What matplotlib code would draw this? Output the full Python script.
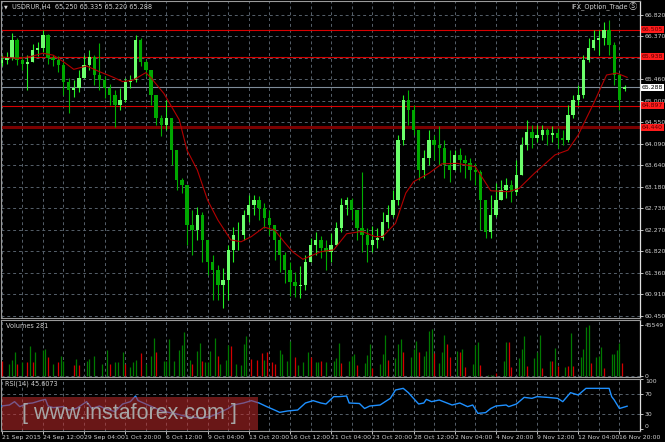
import matplotlib
matplotlib.use("Agg")
import matplotlib.pyplot as plt
import matplotlib.patches as mpatches
from matplotlib import font_manager
import numpy as np

# one candle = two H4 bars (bar index runs 0 .. 245)
candle_step = 2
closes = [
    65.87, 65.91, 66.29, 65.87, 65.78, 65.83, 66.08, 66.12, 66.40, 65.91,
    65.87, 65.76, 65.40, 65.23, 65.28, 65.49, 65.76, 65.93, 65.55, 65.44,
    65.28, 65.13, 64.92, 65.02, 65.40, 65.44, 66.29, 65.83, 65.66, 65.13,
    64.64, 64.49, 64.64, 63.96, 63.33, 63.22, 62.38, 62.27, 62.59, 62.06,
    61.59, 61.42, 61.11, 61.21, 61.85, 62.16, 62.16, 62.59, 62.80, 62.90,
    62.74, 62.52, 62.38, 62.06, 61.74, 61.42, 61.17, 61.09, 61.11, 61.59,
    61.95, 62.06, 61.89, 61.80, 61.95, 62.31, 62.80, 62.90, 62.69, 62.31,
    62.16, 61.95, 62.06, 62.10, 62.44, 62.59, 62.90, 64.18, 65.02, 64.81,
    64.39, 63.54, 63.79, 64.18, 64.07, 64.01, 63.65, 63.54, 63.86, 63.75,
    63.69, 63.54, 63.50, 62.90, 62.23, 62.59, 62.90, 63.12, 63.22, 63.07,
    63.43, 64.07, 64.34, 64.22, 64.28, 64.39, 64.28, 64.32, 64.22, 64.18,
    64.70, 65.02, 65.13, 65.87, 66.12, 66.29, 66.33, 66.50, 66.19, 65.55,
    65.02, 65.288]
highs = [
    65.97, 66.04, 66.44, 66.33, 65.95, 65.97, 66.21, 66.25, 66.50, 66.42,
    65.97, 65.95, 65.83, 65.49, 65.44, 65.66, 65.97, 66.08, 65.97, 66.23,
    65.53, 65.36, 65.23, 65.28, 65.49, 65.55, 66.40, 66.33, 65.87, 65.66,
    65.13, 64.70, 65.02, 64.64, 63.96, 63.37, 63.22, 62.69, 62.76, 62.65,
    62.06, 61.74, 61.53, 61.47, 61.95, 62.33, 62.44, 62.69, 63.01, 63.01,
    62.99, 62.84, 62.69, 62.38, 62.23, 61.80, 61.59, 61.38, 61.51, 61.74,
    62.10, 62.23, 62.14, 62.06, 62.21, 62.44, 62.95, 62.97, 62.95, 62.69,
    63.50, 62.31, 62.35, 62.31, 62.65, 62.80, 63.12, 64.28, 65.13, 65.23,
    64.92, 64.39, 63.96, 64.39, 64.28, 64.47, 64.18, 63.96, 63.96, 64.01,
    63.86, 63.79, 63.69, 63.54, 62.90, 63.01, 63.26, 63.33, 63.37, 63.33,
    63.75, 64.24, 64.60, 64.49, 64.49, 64.49, 64.43, 64.47, 64.43, 64.39,
    64.92, 65.13, 65.34, 65.97, 66.33, 66.50, 66.50, 66.67, 66.71, 66.25,
    65.60, 65.335]
lows = [
    65.74, 65.78, 65.87, 65.76, 65.66, 65.23, 65.83, 65.95, 66.04, 65.78,
    65.74, 65.61, 65.13, 64.75, 65.09, 65.19, 65.49, 65.66, 65.34, 65.23,
    65.06, 64.92, 64.45, 64.81, 64.98, 65.28, 65.40, 65.74, 65.53, 64.92,
    64.49, 64.26, 64.39, 63.65, 63.12, 63.05, 61.95, 61.74, 62.06, 61.59,
    61.32, 60.79, 60.79, 60.62, 60.79, 61.59, 61.85, 62.06, 62.44, 62.59,
    62.48, 62.31, 62.16, 61.64, 61.38, 61.15, 60.87, 60.85, 60.83, 61.00,
    61.59, 61.74, 61.68, 61.42, 61.59, 61.95, 62.23, 62.59, 62.48, 62.06,
    61.80, 61.59, 61.80, 61.89, 62.05, 62.31, 62.55, 62.80, 64.07, 64.49,
    64.28, 63.33, 63.37, 63.65, 63.75, 63.65, 63.37, 63.29, 63.54, 63.50,
    63.37, 63.33, 63.22, 62.27, 62.10, 62.10, 62.55, 62.90, 62.95, 62.86,
    63.01, 63.43, 63.96, 64.01, 64.13, 64.18, 64.07, 64.13, 64.01, 64.07,
    64.13, 64.64, 64.92, 65.06, 65.83, 66.08, 65.97, 66.19, 65.97, 65.34,
    64.81, 65.220]
first_open = 65.80
last_open = 65.250

# moving average (red line)
ma_bar = [0, 7, 12, 16, 20, 24, 28, 33, 38, 43, 47, 51, 56, 58, 63, 69, 72, 76,
          80, 84, 89, 93, 97, 102, 106, 110, 113, 117, 124, 129, 134, 140, 145,
          148, 153, 157, 160, 166, 171, 177, 184, 190, 197, 201, 207, 215, 220,
          224, 230, 235, 239, 243]
ma_val = [65.93, 65.90, 65.95, 66.01, 65.97, 65.83, 65.67, 65.74, 65.62, 65.51,
          65.41, 65.44, 65.60, 65.49, 65.16, 64.60, 63.96, 63.54, 62.90, 62.48,
          62.06, 62.02, 62.13, 62.33, 62.27, 62.00, 61.81, 61.65, 61.81, 61.85,
          62.19, 62.24, 62.13, 62.13, 62.41, 63.05, 63.29, 63.47, 63.67, 63.68,
          63.61, 63.10, 63.08, 63.15, 63.47, 63.86, 63.96, 64.28, 64.95, 65.55,
          65.59, 65.50]

red_levels = [66.505, 65.938, 64.897]
support_level = 64.440
bid = 65.288
price_ticks = [66.820, 66.370, 65.910, 65.460, 65.000, 64.550, 64.090, 63.640,
               63.180, 62.730, 62.270, 61.820, 61.360, 60.910, 60.450]

date_bars = list(range(0, 241, 16))
date_labels = ["21 Sep 2015", "24 Sep 12:00", "29 Sep 04:00", "1 Oct 20:00",
               "6 Oct 12:00", "9 Oct 04:00", "13 Oct 20:00", "16 Oct 12:00",
               "21 Oct 04:00", "23 Oct 20:00", "28 Oct 12:00", "2 Nov 04:00",
               "4 Nov 20:00", "9 Nov 12:00", "12 Nov 04:00", "16 Nov 20:00"]

# volumes per H4 bar (g = green, r = red)
vol_bar = [0, 3, 4, 5, 6, 8, 10, 11, 12, 13,
           16, 17, 18, 20, 22, 23, 24, 28, 29, 30,
           33, 34, 36, 39, 41, 42, 44, 45, 47, 48,
           50, 51, 52, 54, 56, 58, 59, 60, 63, 64,
           65, 67, 69, 70, 71, 73, 74, 76, 77, 78,
           79, 80, 81, 83, 84, 85, 87, 88, 89, 91,
           93, 94, 95, 97, 99, 101, 102, 103, 105, 106,
           108, 109, 111, 112, 114, 115, 117, 119, 120, 122,
           123, 124, 126, 129, 130, 131, 132, 135, 136, 137,
           138, 141, 142, 143, 144, 147, 148, 149, 150, 153,
           154, 155, 156, 159, 160, 161, 162, 164, 165, 166,
           167, 168, 170, 171, 172, 173, 174, 177, 178, 179,
           180, 183, 184, 185, 186, 189, 190, 191, 192, 195,
           196, 197, 198, 201, 202, 203, 204, 207, 208, 209,
           210, 213, 214, 215, 216, 219, 220, 221, 222, 225,
           226, 227, 228, 229, 231, 232, 233, 234, 237, 238,
           239, 240, 241, 243]
vol_value = [13000, 11000, 14400, 21600, 11000, 12400, 12400, 26800, 12400, 21000,
             23100, 24500, 17300, 11000, 12400, 18200, 13800, 9500, 15300, 9500,
             13800, 15300, 18200, 11000, 23400, 11000, 12400, 12400, 21000, 11000,
             8000, 12400, 14700, 20200, 11000, 18200, 33500, 21000, 13800, 13800,
             32600, 13800, 23100, 27400, 38900, 14700, 11000, 22500, 29700, 13800,
             12400, 12400, 22500, 34000, 18200, 11000, 14700, 27400, 26800, 11000,
             9500, 28300, 35500, 15300, 14700, 20200, 14400, 21600, 12400, 11000,
             23400, 19600, 13800, 31100, 17300, 10100, 12400, 21600, 16700, 12400,
             12400, 13800, 12400, 13800, 16200, 29700, 11500, 13800, 18200, 19600,
             9500, 11500, 19000, 28800, 6700, 11000, 19600, 36300, 14700, 16200,
             28800, 32600, 21000, 17300, 24000, 31100, 21600, 18200, 22500, 40400,
             42100, 20200, 11500, 21000, 36900, 28300, 17300, 22500, 21000, 24000,
             8000, 11000, 27700, 30300, 9500, 900, 900, 900, 2300, 13800,
             30500, 30500, 8000, 15800, 24000, 35500, 8700, 16200, 21000, 36900,
             6700, 13000, 13200, 25300, 8700, 8000, 8700, 38300, 8700, 17300,
             24000, 44100, 45549, 11500, 16700, 18200, 26000, 7500, 19600, 19600,
             23100, 29700, 11500, 281]
vol_dir = list("rgggrgrgrg" "ggrgrggrgr" "gggggrgggr" "gggrgggrgg"
               "ggggggrggr" "ggggrgggrg" "gggrrrgrrr" "ggggrgggrg"
               "grggggrggg" "rgggrgggrg" "ggrgggrggg" "grgggrrgrg"
               "rgggrgggrg" "grrgggrggg" "rgrgrgrgrg" "gggrgggrgg" "ggrg")
vol_max = 45549

# RSI(14)
rsi_bar = [0, 3, 5, 7, 10, 12, 15, 17, 18, 20, 24, 26, 29, 33, 35, 38, 40, 44,
           47, 50, 52, 53, 56, 60, 63, 67, 71, 75, 78, 81, 84, 88, 90, 94, 97,
           100, 103, 106, 108, 111, 115, 118, 121, 124, 126, 129, 131, 134, 135,
           139, 141, 143, 147, 149, 151, 153, 156, 158, 160, 162, 164, 165, 167,
           170, 175, 178, 181, 183, 185, 188, 190, 192, 196, 197, 200, 203, 206,
           208, 212, 216, 218, 221, 224, 227, 236, 237, 238, 240, 243]
rsi_val = [46, 48, 54.7, 44.7, 51, 52, 56.7, 59.3, 46, 42.7, 44.7, 38, 41, 54.7,
           41, 46, 41, 34.7, 50, 54.7, 66, 56.7, 50, 41, 34.7, 31.3, 26, 22.7,
           22.7, 24.7, 31.3, 41, 48, 52, 56.7, 52, 44.7, 38, 33.3, 36, 38, 52,
           56.7, 52, 50, 64.7, 64.7, 66, 52, 51, 41, 46, 48, 54.7, 61.3, 78, 81.3,
           72.7, 61.3, 50, 52, 59.3, 54.7, 58, 48, 52, 44.7, 48, 31.3, 32.7, 41,
           46, 48, 44.7, 50, 63.3, 61.3, 64.7, 63.3, 61.3, 54.7, 72.7, 68, 81.3,
           81.3, 64.7, 58, 41, 45.6073]
rsi_levels = [30, 70]

W, H = 665, 442
BG = "#000000"
GRID = "#56606b"
TXT = "#d0d0d0"
FS = 5.0

names = {f.name for f in font_manager.fontManager.ttflist}
FONT = "Liberation Sans Narrow" if "Liberation Sans Narrow" in names else "DejaVu Sans"
if FONT == "DejaVu Sans":
    FS = 4.4
plt.rcParams["font.family"] = [FONT, "DejaVu Sans"]

fig = plt.figure(figsize=(W / 100, H / 100), dpi=100, facecolor=BG)


def panel(top, bottom, left=1, right=640):
    return [left / W, 1 - bottom / H, (right - left) / W, (bottom - top) / H]


ax = fig.add_axes(panel(1, 318))
axv = fig.add_axes(panel(320, 377))
axr = fig.add_axes(panel(379, 431))

for a in (ax, axv, axr):
    a.set_facecolor(BG)
    a.set_xlim(-0.27, 245.5)
    a.set_xticks(date_bars)
    a.set_xticks([b + 8 for b in date_bars], minor=True)
    a.grid(True, which="both", axis="both", color=GRID, lw=0.7,
           linestyle=(0, (3, 3)))
    a.set_axisbelow(True)
    for side in ("left", "top", "bottom"):
        a.spines[side].set_color("#9a9a9a")
        a.spines[side].set_linewidth(0.8)
    a.spines["right"].set_color("#e0e0e0")
    a.spines["right"].set_linewidth(0.9)
    a.yaxis.tick_right()
    a.tick_params(axis="y", colors="#e0e0e0", labelcolor=TXT, labelsize=FS,
                  length=2, width=0.6, pad=1.5)
    a.tick_params(axis="x", which="minor", length=0)
    if a is not axr:
        a.tick_params(axis="x", which="major", length=0, labelbottom=False)

# ---- main price panel ----
ax.set_ylim(60.407, 67.116)
ax.set_yticks(price_ticks)
# a tick label hidden behind a level marker is left out, as the terminal does
markers = red_levels + [support_level, bid]
ax.set_yticklabels(["" if min(abs(p - m) for m in markers) < 0.05 else f"{p:.3f}"
                    for p in price_ticks])

opens = np.array([first_open] + closes[:-1])
opens[-1] = last_open
c = np.array(closes)
x = np.arange(len(closes)) * candle_step
up = c >= opens
ax.vlines(x, lows, highs, colors=np.where(up, "#22ee22", "#00b000"),
          lw=0.8, zorder=3)
ax.bar(x, np.maximum(np.abs(c - opens), 0.012), bottom=np.minimum(c, opens),
       width=1.3, color=np.where(up, "#6cff6c", "#00a800"), linewidth=0,
       zorder=3)

ax.plot(ma_bar, ma_val, color="#b40000", lw=0.8, zorder=4)

for lv in red_levels:
    ax.axhline(lv, color="#d80000", lw=0.8, zorder=2)
ax.axhline(support_level, color="#7a0000", lw=2.2, zorder=2)
ax.axhline(bid, color="#7f8c99", lw=0.8, zorder=2)

for lv in red_levels + [support_level]:
    ax.text(1.003, lv, f"{lv:.3f}", transform=ax.get_yaxis_transform(),
            ha="left", va="center", fontsize=FS, color="#5a0000",
            bbox=dict(boxstyle="square,pad=0.15", fc="#ff1c1c", ec="none"),
            clip_on=False, zorder=6)
ax.text(1.003, bid, f"{bid:.3f}", transform=ax.get_yaxis_transform(),
        ha="left", va="center", fontsize=FS, color="#000000",
        bbox=dict(boxstyle="square,pad=0.15", fc="#ffffff", ec="none"),
        clip_on=False, zorder=6)

header = (f"USDRUR,H4  {last_open:.3f} {highs[-1]:.3f} "
          f"{lows[-1]:.3f} {closes[-1]:.3f}")
fig.text(4 / W, 1 - 7 / H, "\u25bc", fontsize=3.5, color=TXT, va="center",
         family=["DejaVu Sans"])
fig.text(12 / W, 1 - 7 / H, header, fontsize=FS + 0.3, color=TXT, va="center")
fig.text(628 / W, 1 - 7 / H, "IFX_Option_Trade", fontsize=FS + 0.3,
         color=TXT, va="center", ha="right")
fig.text(629 / W, 1 - 7 / H, "\u24c8", fontsize=6, color=TXT, va="center",
         ha="left", family=["DejaVu Sans", "Noto Sans CJK SC"])

# ---- volumes ----
axv.set_ylim(-900, 50000)
axv.set_yticks([0, vol_max])
axv.set_yticklabels(["0", str(vol_max)])
axv.grid(False, axis="y")
axv.axhline(0, color=GRID, lw=0.7, linestyle=(0, (3, 3)))
axv.vlines(vol_bar, 0, vol_value,
           colors=["#007a00" if d == "g" else "#d40000" for d in vol_dir],
           lw=0.9, zorder=3)
axv.text(0.008, 0.9, f"Volumes {vol_value[-1]}", transform=axv.transAxes,
         fontsize=FS + 0.3, color=TXT, va="center")

# ---- RSI ----
axr.set_ylim(-4, 100)
axr.set_yticks([0, 30, 70, 100])
axr.set_yticklabels(["0", "30", "70", "100"])
rl = axr.get_yticklabels()
rl[0].set_va("bottom")
rl[-1].set_va("top")
axr.grid(False, axis="y")
for lv in rsi_levels:
    axr.axhline(lv, color=GRID, lw=0.7, linestyle=(0, (3, 3)))
axr.plot(rsi_bar, rsi_val, color="#1e90ff", lw=1.0, zorder=3)
axr.text(0.006, 0.9, f"RSI(14) {rsi_val[-1]:.4f}", transform=axr.transAxes,
         fontsize=FS + 0.3, color=TXT, va="center")

axr.set_xticklabels(date_labels)
axr.tick_params(axis="x", which="major", length=2, width=0.6,
                colors="#e0e0e0", labelcolor=TXT, labelsize=FS, pad=1)
for lab in axr.get_xticklabels():
    lab.set_ha("left")

# watermark
fig.patches.append(mpatches.Rectangle(
    (2 / W, 1 - 430 / H), 256 / W, 33 / H, transform=fig.transFigure,
    facecolor="#c02a2a", alpha=0.55, edgecolor="none", zorder=5))
fig.text(129 / W, 1 - 414 / H, "[ www.instaforex.com ]", fontsize=15.5,
         color="#a6a6a6", ha="center", va="center", zorder=6,
         family=["Liberation Sans", "DejaVu Sans"])

fig.savefig("out.png", dpi=100, facecolor=BG)
